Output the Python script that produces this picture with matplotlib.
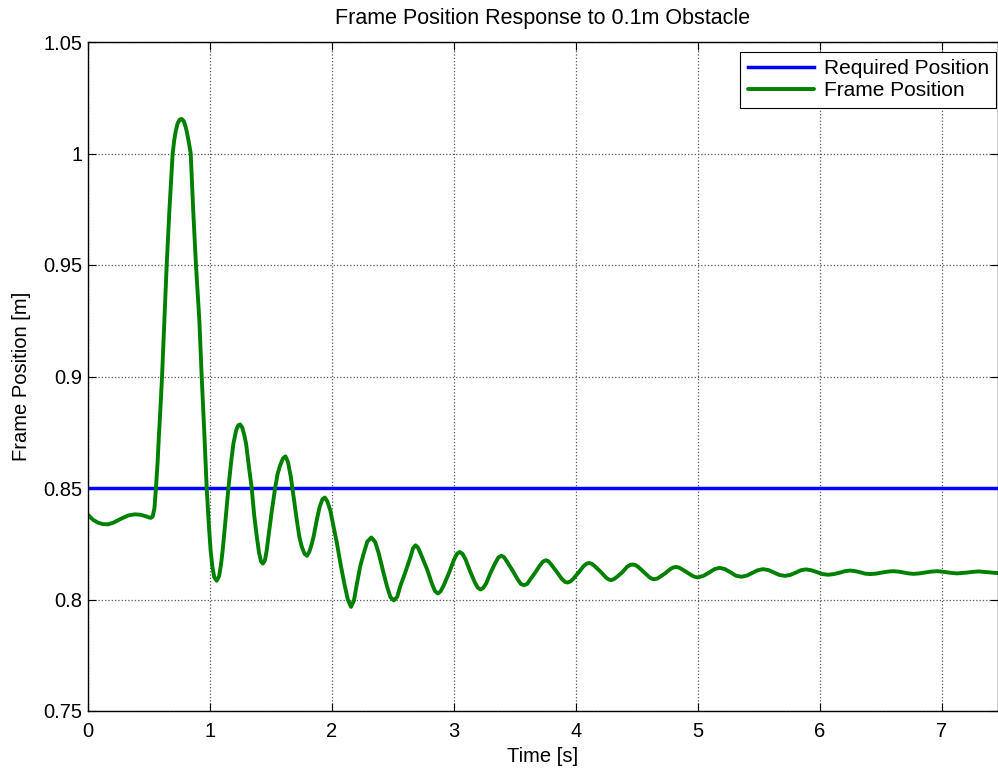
import matplotlib
matplotlib.use("Agg")
import matplotlib.pyplot as plt

# Required position (constant set point)
req_time = [0.0, 7.46]
req_pos = [0.85, 0.85]

# Frame position (time [s], position [m])
frame_time = [
    0.0, 0.04, 0.08, 0.12, 0.164, 0.21, 0.27, 0.33, 0.384, 0.43, 0.47, 0.50,
    0.515, 0.53, 0.545,
    0.557, 0.57, 0.582, 0.595, 0.607, 0.628, 0.645, 0.667, 0.694, 0.707,
    0.719, 0.735, 0.752, 0.768, 0.785, 0.80, 0.809, 0.825, 0.842, 0.863,
    0.885, 0.913, 0.932, 0.954, 0.973, 0.99, 1.005, 1.02, 1.035, 1.055,
    1.075, 1.09, 1.104, 1.128, 1.151, 1.172, 1.192, 1.215, 1.232, 1.247,
    1.265, 1.28, 1.296, 1.318, 1.342, 1.362, 1.384, 1.402, 1.418, 1.433,
    1.45, 1.465, 1.479, 1.505, 1.534, 1.555, 1.575, 1.598, 1.619, 1.64,
    1.663, 1.688, 1.712, 1.733, 1.753, 1.775, 1.795, 1.815, 1.832, 1.849,
    1.875, 1.899, 1.922, 1.942, 1.962, 1.986, 2.012, 2.041, 2.07, 2.101,
    2.13, 2.156, 2.18, 2.205, 2.232, 2.26, 2.29, 2.323, 2.354, 2.384,
    2.42, 2.452, 2.48, 2.507, 2.535, 2.56, 2.60, 2.64, 2.665, 2.685,
    2.705, 2.735, 2.78, 2.82, 2.845, 2.868, 2.89, 2.915, 2.96, 3.0,
    3.025, 3.047, 3.07, 3.095, 3.13, 3.17, 3.195, 3.219, 3.24, 3.265,
    3.30, 3.34, 3.365, 3.389, 3.41, 3.435, 3.48, 3.525, 3.55, 3.575,
    3.60, 3.625, 3.665, 3.705, 3.73, 3.753, 3.775, 3.80, 3.84, 3.885,
    3.91, 3.93, 3.955, 3.98, 4.02, 4.06, 4.085, 4.107, 4.13, 4.155,
    4.20, 4.245, 4.268, 4.288, 4.31, 4.335, 4.38, 4.42, 4.445, 4.466,
    4.49, 4.515, 4.555, 4.60, 4.622, 4.644, 4.667, 4.69, 4.733, 4.778,
    4.80, 4.822, 4.845, 4.868, 4.91, 4.955, 4.978, 5.0, 5.045, 5.09,
    5.135, 5.178, 5.222, 5.267, 5.31, 5.356, 5.40, 5.445, 5.49, 5.534,
    5.578, 5.623, 5.668, 5.712, 5.756, 5.80, 5.843, 5.885, 5.93, 5.975,
    6.02, 6.068, 6.115, 6.16, 6.205, 6.247, 6.29, 6.33, 6.37, 6.411,
    6.46, 6.51, 6.556, 6.603, 6.644, 6.685, 6.726, 6.767, 6.815, 6.86,
    6.91, 6.959, 7.0, 7.04, 7.082, 7.123, 7.165, 7.21, 7.255, 7.301,
    7.38, 7.466,
]
frame_pos = [
    0.838, 0.8358, 0.8345, 0.8338, 0.8337, 0.8345, 0.8362, 0.8377, 0.8382, 0.8380, 0.8374, 0.8368,
    0.8366, 0.8372, 0.841,
    0.85, 0.861, 0.8743, 0.887, 0.90, 0.928, 0.95, 0.9743, 1.0, 1.006,
    1.010, 1.0135, 1.0152, 1.0155, 1.0145, 1.012, 1.010, 1.0055, 1.0, 0.974,
    0.95, 0.925, 0.90, 0.874, 0.85, 0.834, 0.8221, 0.8145, 0.8100, 0.8084,
    0.8105, 0.8155, 0.8221, 0.836, 0.85, 0.861, 0.8699, 0.8760, 0.8781, 0.8785,
    0.8770, 0.8740, 0.8699, 0.860, 0.85, 0.838, 0.8281, 0.8210, 0.8172, 0.8161,
    0.8175, 0.8220, 0.8281, 0.839, 0.85, 0.8565, 0.8601, 0.8633, 0.8642, 0.8615,
    0.8549, 0.8450, 0.8355, 0.8280, 0.8236, 0.8205, 0.8196, 0.8215, 0.8245, 0.8281,
    0.8355, 0.8415, 0.8450, 0.8457, 0.8440, 0.8400, 0.8330, 0.8251, 0.8160, 0.8072,
    0.8000, 0.7967, 0.7995, 0.8072, 0.8150, 0.8206, 0.8260, 0.8278, 0.8258, 0.8206,
    0.8125, 0.8057, 0.8010, 0.7996, 0.8012, 0.8060, 0.8120, 0.8185, 0.8230, 0.8243,
    0.8233, 0.8195, 0.8135, 0.8070, 0.8037, 0.8027, 0.8036, 0.8062, 0.8120, 0.8178,
    0.8205, 0.8213, 0.8205, 0.8180, 0.8130, 0.8078, 0.8053, 0.8045, 0.8052, 0.8073,
    0.8120, 0.8165, 0.8189, 0.8196, 0.8190, 0.8170, 0.8130, 0.8088, 0.8069, 0.8064,
    0.8070, 0.8089, 0.8120, 0.8153, 0.8170, 0.8176, 0.8171, 0.8155, 0.8126, 0.8092,
    0.8079, 0.8076, 0.8081, 0.8094, 0.8120, 0.8148, 0.8160, 0.8164, 0.8160, 0.8149,
    0.8126, 0.8099, 0.8090, 0.8087, 0.8091, 0.8101, 0.8122, 0.8147, 0.8155, 0.8157,
    0.8154, 0.8144, 0.8124, 0.8101, 0.8093, 0.8091, 0.8094, 0.8102, 0.8118, 0.8138,
    0.8144, 0.8146, 0.8143, 0.8136, 0.8122, 0.8106, 0.8101, 0.8099, 0.8106, 0.8120,
    0.8136, 0.8142, 0.8136, 0.8122, 0.8107, 0.8102, 0.8107, 0.8119, 0.8131, 0.8136,
    0.8132, 0.8121, 0.8110, 0.8106, 0.8110, 0.8120, 0.8131, 0.8135, 0.8131, 0.8123,
    0.8114, 0.8111, 0.8114, 0.8120, 0.8127, 0.8130, 0.8127, 0.8122, 0.8116, 0.8114,
    0.8116, 0.8121, 0.8125, 0.8127, 0.8125, 0.8121, 0.8117, 0.8115, 0.8117, 0.8121,
    0.8125, 0.8127, 0.8125, 0.8122, 0.8119, 0.8117, 0.8119, 0.8121, 0.8124, 0.8126,
    0.8122, 0.8118,
]

x_ticks = [0, 1, 2, 3, 4, 5, 6, 7]
y_ticks = [0.75, 0.8, 0.85, 0.9, 0.95, 1.0, 1.05]
y_tick_labels = ["0.75", "0.8", "0.85", "0.9", "0.95", "1", "1.05"]

plt.rcParams['font.family'] = ['Liberation Sans', 'DejaVu Sans']

fig = plt.figure(figsize=(9.98, 7.69), dpi=100)
ax = fig.add_axes([88 / 998, 1 - 711 / 769, 1 - 88 / 998, (711 - 42) / 769])

ax.plot(req_time, req_pos, color=(0, 0, 1), linewidth=2.5, label='Required Position')
ax.plot(frame_time, frame_pos, color=(0, 0.5, 0), linewidth=2.8, label='Frame Position',
        solid_joinstyle='round', solid_capstyle='round')

ax.set_xlim(0, 7.46)
ax.set_ylim(0.75, 1.05)
ax.set_xticks(x_ticks)
ax.set_yticks(y_ticks)
ax.set_yticklabels(y_tick_labels)
ax.tick_params(direction='in', top=True, right=True, labelsize=14.5, length=6)
ax.tick_params(axis='x', pad=8)
ax.tick_params(axis='y', pad=4)

ax.grid(True, linestyle=':', color='#555555', linewidth=0.9)
for s in ax.spines.values():
    s.set_linewidth(1.0)

ax.set_title('Frame Position Response to 0.1m Obstacle', fontsize=15.5, pad=13)
ax.set_xlabel('Time [s]', fontsize=14.5, labelpad=4)
ax.set_ylabel('Frame Position [m]', fontsize=14.5, labelpad=9)

leg = ax.legend(loc='upper right', bbox_to_anchor=(996 / 998, 1 - 52 / 769),
                bbox_transform=fig.transFigure, borderaxespad=0,
                fontsize=15, fancybox=False, framealpha=1, edgecolor='black',
                handlelength=3.2, handletextpad=0.45, borderpad=0.35, labelspacing=0.15)
leg.get_frame().set_linewidth(0.8)

fig.savefig('out.png', dpi=100)
